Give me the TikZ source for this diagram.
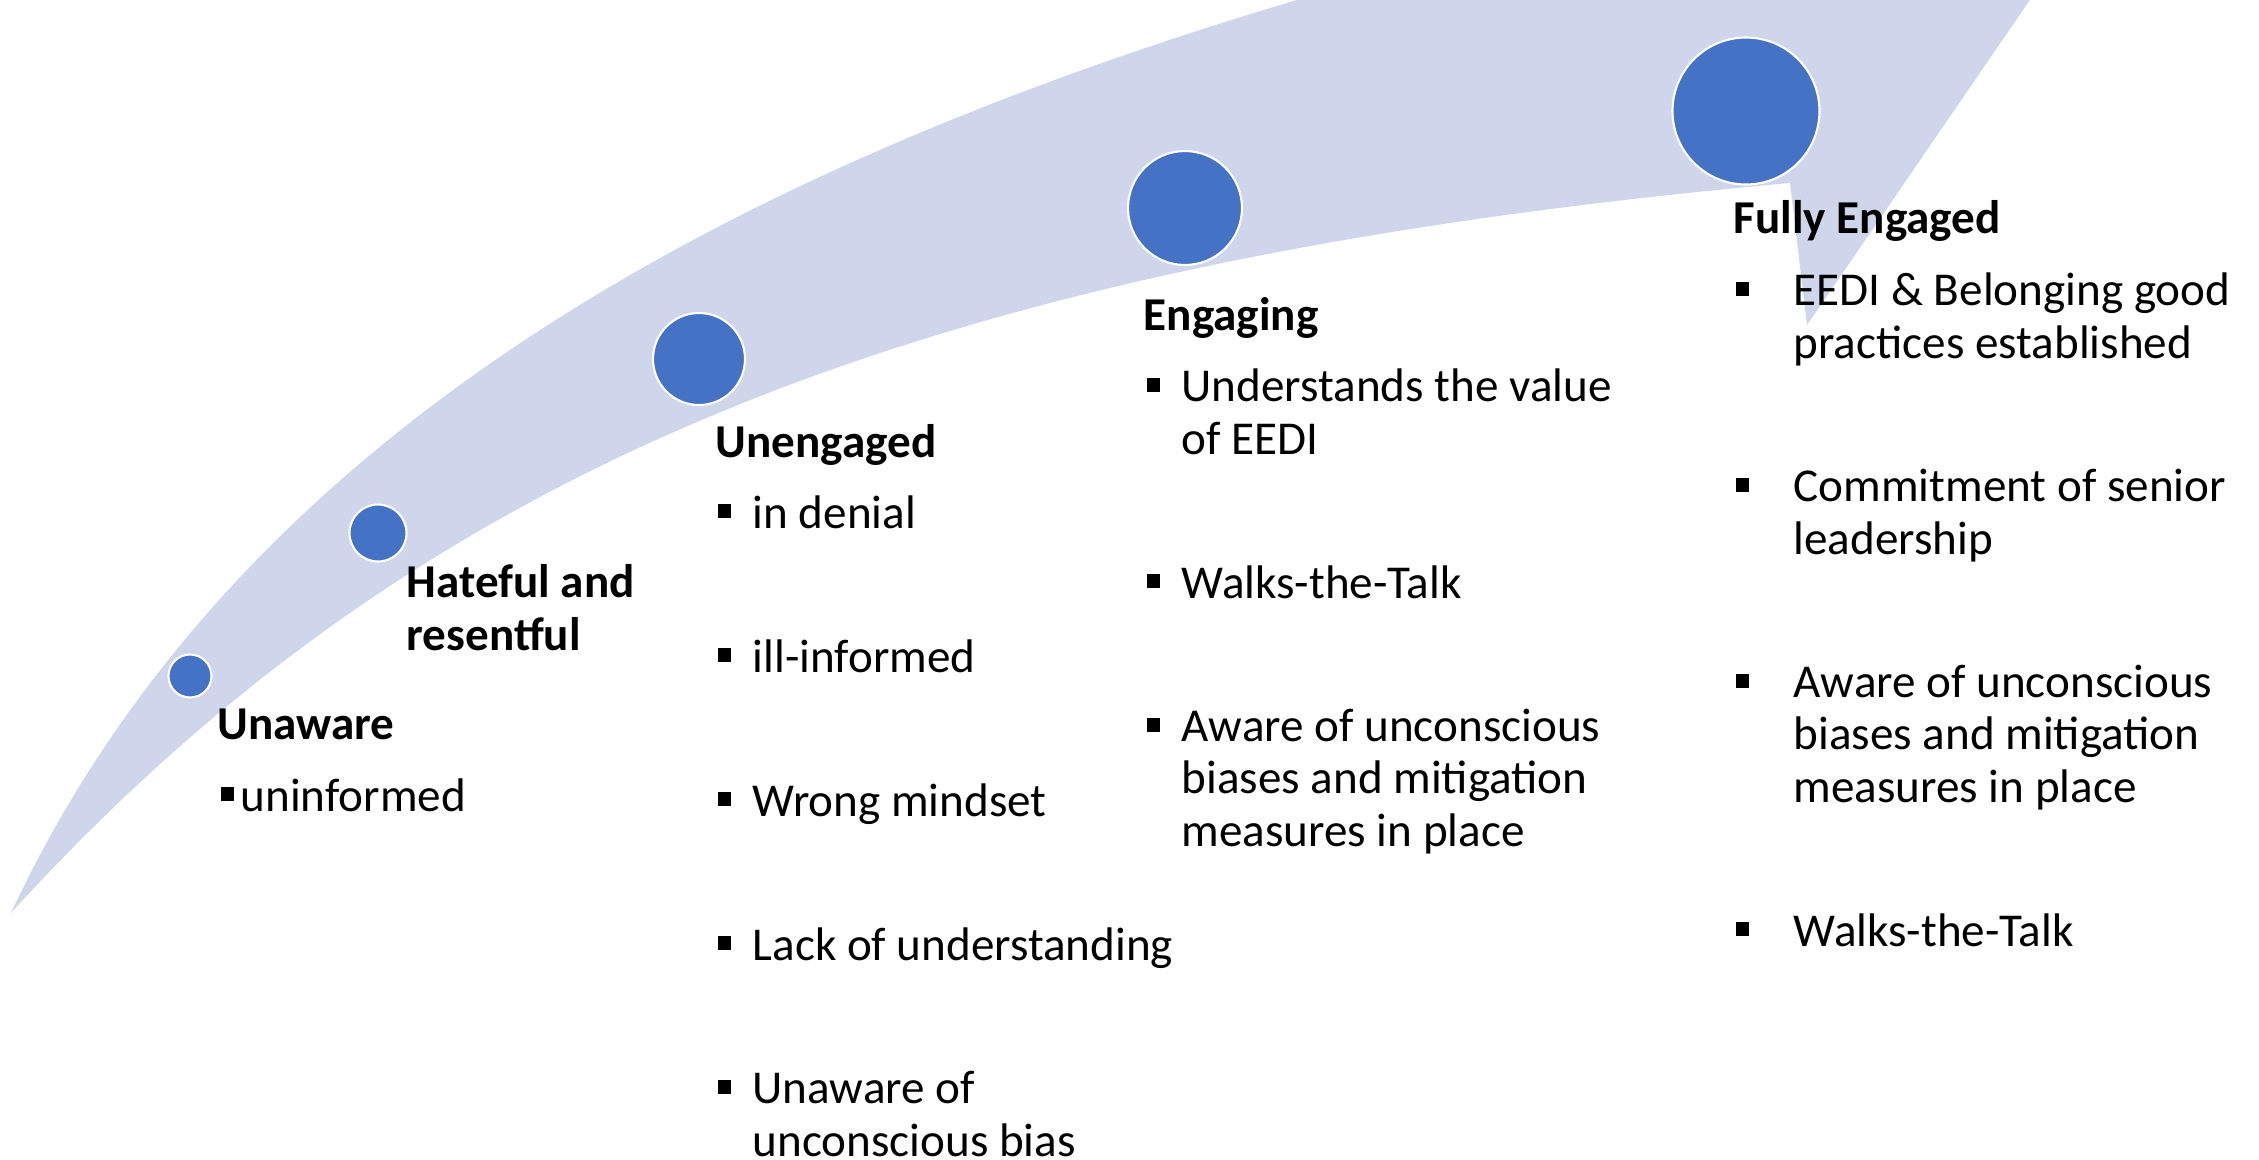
\documentclass[tikz,border=0pt]{standalone}
\usepackage{fontspec}
\setmainfont{Carlito}
\definecolor{bandblue}{HTML}{CFD5EA}
\definecolor{dotblue}{HTML}{4472C4}
\newcommand{\blt}{\rule[0.21em]{0.29em}{0.29em}}
\begin{document}
\begin{tikzpicture}[x=0.01cm,y=-0.01cm,every node/.style={inner sep=0pt,font=\fontsize{13.4}{14.8}\selectfont},
  dot/.style={circle,fill=dotblue,draw=white,line width=0.6pt},
  stage/.style={anchor=base west,align=left,font=\fontsize{13.4}{14.8}\selectfont\bfseries},
  txt/.style={anchor=base west,align=left},
  sq/.style={anchor=base west}]
\useasboundingbox (0,0) rectangle (2259,1160);
\clip (0,0) rectangle (2259,1160);
\fill[bandblue] (11,913) .. controls (225,455) and (690,180) .. (1297,0) -- (1497,-60)
  -- (2071,-60) -- (1807,325) -- (1790,183)
  .. controls (915,262) and (417,467) .. (11,913) -- cycle;
\foreach \x/\y/\d [count=\i] in {190/676/43,378/533/57,699/359/92,1185/208/114,1746/111/147}
  \node[dot,minimum size=\d*0.01cm] (c\i) at (\x,\y) {};
\node[stage] (unaware) at (217,739) {Unaware};
\node[sq] (unaware-b) at (220,811) {\blt};
\node[txt] (unaware-t) at (240,811) {uninformed};
\node[stage] (hateful) at (406,650) {Hateful and\\resentful};
\node[stage] (uneng) at (715,457) {Unengaged};
\foreach \y/\n/\t [count=\i] in {528/0/in denial,672/0/ill-informed,816/0/Wrong mindset,960/0/Lack of understanding,1104/1/{Unaware of\\unconscious bias}} {
  \node[sq] (uneng-b\i) at (717,\y) {\blt};
  \node[txt] (uneng-t\i) at (752,{\y+52*\n}) {\t};
}
\node[stage] (eng) at (1143,330) {Engaging};
\foreach \y/\n/\t [count=\i] in {402/1/{Understands the value\\of EEDI},598/0/Walks-the-Talk,742/2/{Aware of unconscious\\biases and mitigation\\measures in place}} {
  \node[sq] (eng-b\i) at (1146,\y) {\blt};
  \node[txt] (eng-t\i) at (1181,{\y+52*\n}) {\t};
}
\node[stage] (full) at (1733,233) {Fully Engaged};
\foreach \y/\n/\t [count=\i] in {306/1/{EEDI \& Belonging good\\practices established},502/1/{Commitment of senior\\leadership},698/2/{Aware of unconscious\\biases and mitigation\\measures in place},946/0/Walks-the-Talk} {
  \node[sq] (full-b\i) at (1735,\y) {\blt};
  \node[txt] (full-t\i) at (1793,{\y+52*\n}) {\t};
}
\end{tikzpicture}
\end{document}
